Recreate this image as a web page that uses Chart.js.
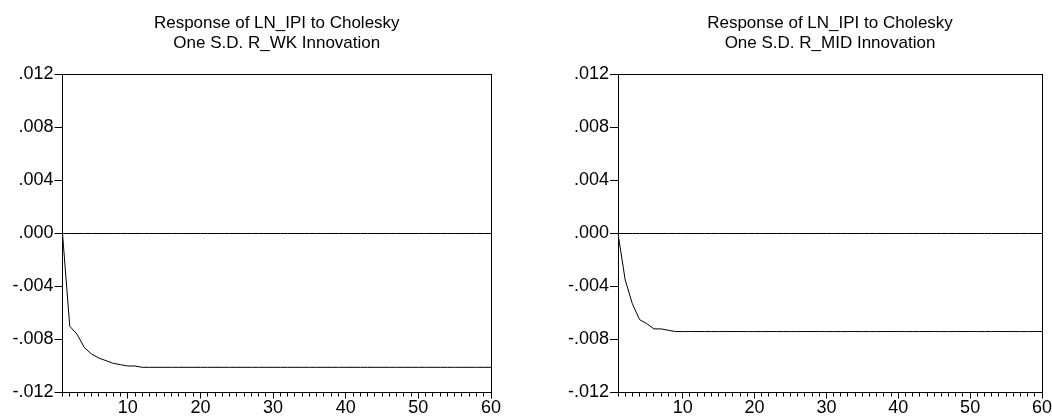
<!DOCTYPE html>
<html lang="en">
<head>
    <meta charset="UTF-8">
    <title>Impulse responses of LN_IPI</title>
    <script src="https://cdn.jsdelivr.net/npm/chart.js"></script>
    <style>
        body {
            margin: 0;
            background: #fff;
            width: 1052px;
            height: 417px;
            overflow: hidden;
        }
        .panel {
            position: absolute;
            top: 0;
            width: 526px;
            height: 417px;
        }
        #leftPanel { left: 0; }
        #rightPanel { left: 526px; }
    </style>
</head>
<body>
    <div class="panel" id="leftPanel"><canvas id="wkChart"></canvas></div>
    <div class="panel" id="rightPanel"><canvas id="midChart"></canvas></div>

    <script>
        // periods 1..60
        const periods = [
            1, 2, 3, 4, 5, 6, 7, 8, 9, 10,
            11, 12, 13, 14, 15, 16, 17, 18, 19, 20,
            21, 22, 23, 24, 25, 26, 27, 28, 29, 30,
            31, 32, 33, 34, 35, 36, 37, 38, 39, 40,
            41, 42, 43, 44, 45, 46, 47, 48, 49, 50,
            51, 52, 53, 54, 55, 56, 57, 58, 59, 60
        ];

        // response of LN_IPI to R_WK shock
        const responseWK = [
            0, -0.0070, -0.0076, -0.0086, -0.0091, -0.0094, -0.0096, -0.0098, -0.0099, -0.0100,
            -0.0100, -0.0101, -0.0101, -0.0101, -0.0101, -0.0101, -0.0101, -0.0101, -0.0101, -0.0101,
            -0.0101, -0.0101, -0.0101, -0.0101, -0.0101, -0.0101, -0.0101, -0.0101, -0.0101, -0.0101,
            -0.0101, -0.0101, -0.0101, -0.0101, -0.0101, -0.0101, -0.0101, -0.0101, -0.0101, -0.0101,
            -0.0101, -0.0101, -0.0101, -0.0101, -0.0101, -0.0101, -0.0101, -0.0101, -0.0101, -0.0101,
            -0.0101, -0.0101, -0.0101, -0.0101, -0.0101, -0.0101, -0.0101, -0.0101, -0.0101, -0.0101
        ];

        // response of LN_IPI to R_MID shock
        const responseMID = [
            0, -0.0035, -0.0053, -0.0065, -0.0068, -0.0072, -0.0072, -0.0073, -0.0074, -0.0074,
            -0.0074, -0.0074, -0.0074, -0.0074, -0.0074, -0.0074, -0.0074, -0.0074, -0.0074, -0.0074,
            -0.0074, -0.0074, -0.0074, -0.0074, -0.0074, -0.0074, -0.0074, -0.0074, -0.0074, -0.0074,
            -0.0074, -0.0074, -0.0074, -0.0074, -0.0074, -0.0074, -0.0074, -0.0074, -0.0074, -0.0074,
            -0.0074, -0.0074, -0.0074, -0.0074, -0.0074, -0.0074, -0.0074, -0.0074, -0.0074, -0.0074,
            -0.0074, -0.0074, -0.0074, -0.0074, -0.0074, -0.0074, -0.0074, -0.0074, -0.0074, -0.0074
        ];

        const zeroLine = [
            0, 0, 0, 0, 0, 0, 0, 0, 0, 0,
            0, 0, 0, 0, 0, 0, 0, 0, 0, 0,
            0, 0, 0, 0, 0, 0, 0, 0, 0, 0,
            0, 0, 0, 0, 0, 0, 0, 0, 0, 0,
            0, 0, 0, 0, 0, 0, 0, 0, 0, 0,
            0, 0, 0, 0, 0, 0, 0, 0, 0, 0
        ];

        const yTicks = [-0.012, -0.008, -0.004, 0, 0.004, 0.008, 0.012];

        const titleWK = ['Response of LN_IPI to Cholesky', 'One S.D. R_WK Innovation'];
        const titleMID = ['Response of LN_IPI to Cholesky', 'One S.D. R_MID Innovation'];

        const FONT = 'Arial, "Liberation Sans", sans-serif';
        const TITLE_SIZE = 17;
        const TICK_SIZE = 18;

        function fmtTick(v) {
            const n = Math.round(Math.abs(v) * 1000);
            return (v < -1e-9 ? '-' : '') + '.' + String(n).padStart(3, '0');
        }

        // box around the plot, x tick marks, two-line title over the plot
        const eviewsFrame = {
            id: 'eviewsFrame',
            afterDraw(chart, args, opts) {
                const ctx = chart.ctx;
                const a = chart.chartArea;
                const xs = chart.scales.x;
                ctx.save();
                ctx.strokeStyle = '#000';
                ctx.lineWidth = 1;
                ctx.strokeRect(Math.floor(a.left) + 0.5, Math.floor(a.top) + 0.5,
                    Math.round(a.right - a.left), Math.round(a.bottom - a.top));
                ctx.beginPath();
                const yb = Math.floor(a.bottom) + 0.5;
                periods.forEach((p, i) => {
                    const x = Math.floor(xs.getPixelForValue(i)) + 0.5;
                    ctx.moveTo(x, yb);
                    ctx.lineTo(x, yb + (p % 10 === 0 ? 6 : 4));
                });
                ctx.stroke();

                ctx.fillStyle = '#000';
                ctx.font = TITLE_SIZE + 'px ' + FONT;
                ctx.textAlign = 'center';
                ctx.textBaseline = 'middle';
                const cx = (a.left + a.right) / 2;
                opts.lines.forEach((t, i) => ctx.fillText(t, cx, 23 + i * 20));
                ctx.restore();
            }
        };

        function makeChart(id, values, title, yWidth, rightPad) {
            return new Chart(document.getElementById(id), {
                type: 'line',
                data: {
                    labels: periods,
                    datasets: [{
                        data: zeroLine,
                        borderColor: '#000',
                        borderWidth: 1,
                        pointRadius: 0
                    }, {
                        data: values,
                        borderColor: '#000',
                        borderWidth: 1,
                        pointRadius: 0,
                        tension: 0
                    }]
                },
                options: {
                    responsive: false,
                    animation: false,
                    layout: { padding: { left: 0, right: rightPad, top: 74.5, bottom: 0 } },
                    plugins: {
                        legend: { display: false },
                        tooltip: { enabled: false },
                        eviewsFrame: { lines: title }
                    },
                    scales: {
                        x: {
                            type: 'category',
                            offset: false,
                            border: { display: false },
                            grid: { display: false },
                            ticks: {
                                autoSkip: false,
                                maxRotation: 0,
                                padding: -3,
                                color: '#000',
                                font: { family: FONT, size: TICK_SIZE },
                                callback: function (v, i) {
                                    const p = periods[i];
                                    return p % 10 === 0 ? String(p) : '';
                                }
                            },
                            afterFit: s => { s.height = 24.5; }
                        },
                        y: {
                            min: -0.012,
                            max: 0.012,
                            afterBuildTicks: s => { s.ticks = yTicks.map(v => ({ value: v })); },
                            border: { display: true, color: '#000' },
                            grid: {
                                drawOnChartArea: false,
                                drawTicks: true,
                                tickLength: 8,
                                color: '#000'
                            },
                            ticks: {
                                padding: 1,
                                color: '#000',
                                font: { family: FONT, size: TICK_SIZE },
                                callback: v => fmtTick(v)
                            },
                            afterFit: s => { s.width = yWidth; }
                        }
                    }
                },
                plugins: [eviewsFrame]
            });
        }

        function sizeCanvas(id) {
            const c = document.getElementById(id);
            c.width = 526;
            c.height = 417;
            c.style.width = '526px';
            c.style.height = '417px';
        }

        sizeCanvas('wkChart');
        sizeCanvas('midChart');
        makeChart('wkChart', responseWK, titleWK, 62.5, 35);
        makeChart('midChart', responseMID, titleMID, 92, 10);
    </script>
</body>
</html>
